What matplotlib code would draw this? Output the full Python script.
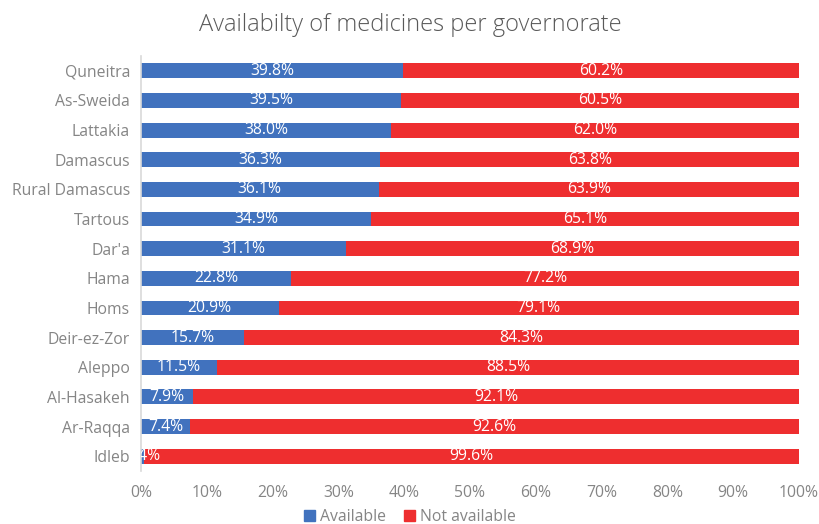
import matplotlib
matplotlib.use("Agg")
import matplotlib.pyplot as plt
from matplotlib.patches import Patch

plt.rcParams['font.family'] = ['Open Sans', 'DejaVu Sans']

governorates = ["Quneitra", "As-Sweida", "Lattakia", "Damascus", "Rural Damascus",
                "Tartous", "Dar'a", "Hama", "Homs", "Deir-ez-Zor", "Aleppo",
                "Al-Hasakeh", "Ar-Raqqa", "Idleb"]
available = [39.8, 39.5, 38.0, 36.3, 36.1, 34.9, 31.1, 22.8, 20.9, 15.7, 11.5, 7.9, 7.4, 0.4]
not_available = [60.2, 60.5, 62.0, 63.8, 63.9, 65.1, 68.9, 77.2, 79.1, 84.3, 88.5, 92.1, 92.6, 99.6]
x_ticks = [0, 10, 20, 30, 40, 50, 60, 70, 80, 90, 100]

blue = "#4172BE"
red = "#EE2E2F"
gray = "#858585"

fig = plt.figure(figsize=(8.2, 5.24), dpi=100)
ax = fig.add_axes([141 / 820, 1 - 471 / 524, (799 - 141) / 820, (471 - 56) / 524])

y = list(range(len(governorates)))[::-1]
ax.barh(y, available, height=0.5, color=blue)
ax.barh(y, not_available, left=available, height=0.5, color=red)

for yi, a, n in zip(y, available, not_available):
    ax.text(a / 2, yi, f"{a:.1f}%", ha="center", va="center", color="white",
            fontsize=11.3, clip_on=True)
    ax.text(a + n / 2, yi, f"{n:.1f}%", ha="center", va="center", color="white",
            fontsize=11.3, clip_on=True)

ax.set_xlim(0, 100)
ax.set_ylim(-0.5, len(governorates) - 0.5)
ax.set_yticks(y)
ax.set_yticklabels(governorates, fontsize=11.3, color=gray)
ax.set_xticks(x_ticks)
ax.set_xticklabels([f"{t}%" for t in x_ticks], fontsize=11.3, color=gray)
ax.tick_params(axis="both", length=0)
ax.tick_params(axis="x", pad=10)
ax.tick_params(axis="y", pad=8)
for side in ["top", "right", "bottom"]:
    ax.spines[side].set_visible(False)
ax.spines["left"].set_color("#D9D9D9")
ax.spines["left"].set_linewidth(1.2)

fig.text(0.5, 1 - 25 / 524, "Availabilty of medicines per governorate",
         ha="center", va="center", fontsize=17, color="#595959", fontweight="light")

handles = [Patch(color=blue, label="Available"), Patch(color=red, label="Not available")]
fig.legend(handles=handles, loc="center", bbox_to_anchor=(0.5, 1 - 517 / 524), ncol=2,
           frameon=False, handlelength=0.7, handleheight=0.7,
           handletextpad=0.3, columnspacing=1.2, labelcolor=gray,
           prop={"size": 11.3})

fig.savefig("out.png", dpi=100)
